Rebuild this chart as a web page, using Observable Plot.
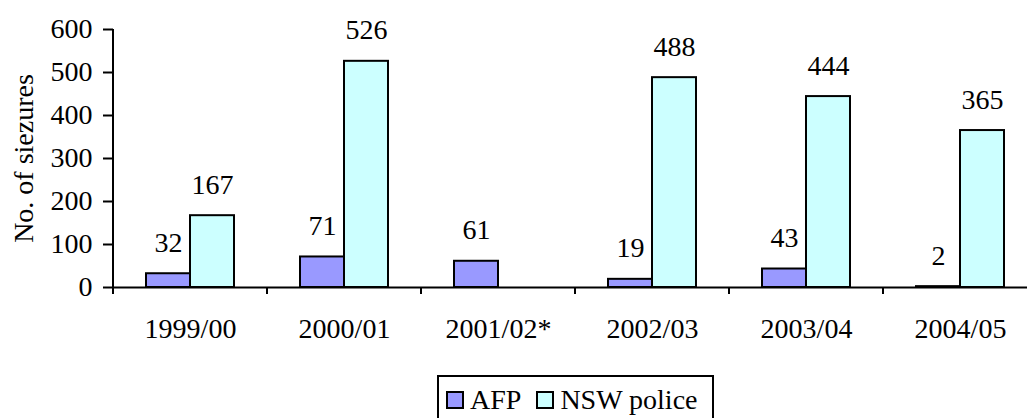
<!DOCTYPE html>
<html>
<head>
<meta charset="utf-8">
<script src="https://cdn.jsdelivr.net/npm/d3@7"></script>
<script src="https://cdn.jsdelivr.net/npm/@observablehq/plot@0.6"></script>
<style>
  html, body { margin: 0; padding: 0; background: #fff; }
  #chart svg { display: block; }
  .legend {
    display: inline-block;
    margin-left: 437px;
    border: 2px solid #000;
    border-bottom: none;
    padding: 9px 14px 14px 7px;
    font-family: "Liberation Serif", "Times New Roman", serif;
    font-size: 28px;
    line-height: 28px;
    color: #000;
    white-space: nowrap;
  }
  .legend .item { display: inline-flex; align-items: center; }
  .legend .sw {
    display: inline-block; width: 14px; height: 14px;
    border: 2px solid #000; margin-right: 6px;
  }
</style>
</head>
<body>
<div id="chart"></div>
<script>
const years = ["1999/00", "2000/01", "2001/02*", "2002/03", "2003/04", "2004/05"];
const seriesNames = ["AFP", "NSW police"];
const afp = [32, 71, 61, 19, 43, 2];
const nsw = [167, 526, null, 488, 444, 365];
const seriesColors = ["#9999FF", "#CCFFFF"];
const yTicks = [0, 100, 200, 300, 400, 500, 600];

const data = [];
years.forEach((yr, i) => {
  if (afp[i] != null) data.push({year: yr, series: seriesNames[0], value: afp[i]});
  if (nsw[i] != null) data.push({year: yr, series: seriesNames[1], value: nsw[i]});
});

// y-axis line and category boundary ticks, drawn once over the whole plot
function axisLines(index, scales) {
  const {fx, y} = scales;
  const g = d3.create("svg:g").attr("stroke", "#000").attr("stroke-width", 2);
  const x0 = fx(years[0]);
  const y0 = y(0);
  g.append("line").attr("x1", x0).attr("x2", x0).attr("y1", y(d3.max(yTicks))).attr("y2", y0 + 7);
  for (const c of years) {
    const xc = fx(c);
    g.append("line").attr("x1", xc).attr("x2", xc).attr("y1", y0).attr("y2", y0 + 7);
  }
  return g.node();
}

const chart = Plot.plot({
  width: 1027,
  height: 375,
  marginLeft: 113,
  marginRight: -10,
  marginTop: 29,
  marginBottom: 88,
  style: {fontFamily: "'Liberation Serif', 'Times New Roman', serif", fontSize: "28px", color: "#000", background: "#fff"},
  fx: {domain: years, paddingInner: 0, paddingOuter: 0},
  x: {domain: seriesNames, paddingInner: 0, paddingOuter: 0.73, axis: null},
  y: {domain: [0, 600], ticks: yTicks},
  color: {domain: seriesNames, range: seriesColors},
  marks: [
    Plot.barY(data, {fx: "year", x: "series", y: "value", fill: "series", stroke: "#000", strokeWidth: 2}),
    Plot.ruleY([0], {stroke: "#000", strokeWidth: 2}),
    Plot.text(data, {fx: "year", x: "series", y: "value", text: d => String(d.value), lineAnchor: "middle", dy: -31, fill: "#000"}),
    Plot.axisFx({anchor: "bottom", tickSize: 0, tickPadding: 31, label: null, fill: "#000"}),
    Plot.axisY({anchor: "left", ticks: yTicks, tickSize: 10, tickPadding: 11, strokeWidth: 2, label: "No. of siezures", labelAnchor: "center", labelArrow: "none", labelOffset: 100, fill: "#000"}),
    Plot.frame({facet: "super", render: axisLines})
  ]
});
document.getElementById("chart").append(chart);

const legend = document.createElement("div");
legend.className = "legend";
seriesNames.forEach((name, i) => {
  const item = document.createElement("span");
  item.className = "item";
  if (i > 0) item.style.marginLeft = "15px";
  const sw = document.createElement("span");
  sw.className = "sw";
  sw.style.background = seriesColors[i];
  item.append(sw, document.createTextNode(name));
  legend.append(item);
});
document.body.append(legend);
</script>
</body>
</html>
